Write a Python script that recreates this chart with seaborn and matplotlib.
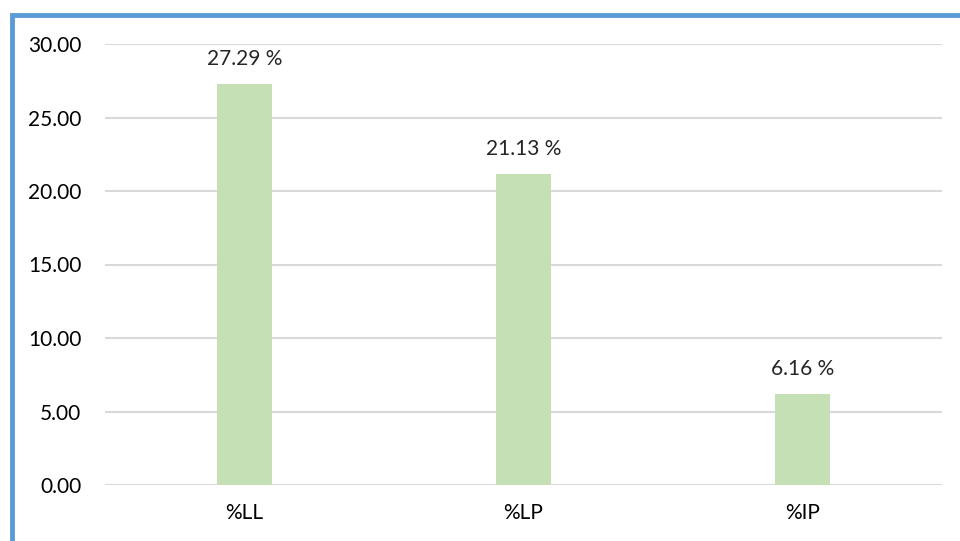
import matplotlib.pyplot as plt
import seaborn as sns
import pandas as pd
from matplotlib.patches import Rectangle

# data
categories = ['%LL', '%LP', '%IP']
values = [27.29, 21.13, 6.16]
labels = ['27.29 %', '21.13 %', '6.16 %']

df = pd.DataFrame({'cat': categories, 'val': values})

sns.set_style('white')
plt.rcParams['font.family'] = ['Lato', 'DejaVu Sans']

fig = plt.figure(figsize=(9.6, 5.41), dpi=100)
ax = fig.add_axes([105 / 960, 56 / 541, 837 / 960, 441 / 541])

sns.barplot(data=df, x='cat', y='val', order=categories, color='#C5E0B4',
            saturation=1, width=0.2, linewidth=0, ax=ax, zorder=3)

ax.set_ylim(0, 30)
ax.set_yticks([0, 5, 10, 15, 20, 25, 30])
ax.set_yticklabels([f'{t:.2f}' for t in [0, 5, 10, 15, 20, 25, 30]])
ax.set_xlim(-0.5, 2.5)
ax.grid(axis='y', color='#D9D9D9', linewidth=1.5, zorder=0)
for s in ax.spines.values():
    s.set_visible(False)
ax.tick_params(axis='both', length=0, labelsize=15, colors='black')
ax.tick_params(axis='y', pad=17)
ax.tick_params(axis='x', pad=13)
ax.set_xlabel('')
ax.set_ylabel('')

for i, (v, lab) in enumerate(zip(values, labels)):
    ax.annotate(lab, (i, v), xytext=(0, 11), textcoords='offset points',
                ha='center', va='bottom', fontsize=15)

# blue frame around the chart (cut off at right and bottom)
fig.patches.append(Rectangle((12 / 960, -0.2), 1.5, 1 - 15 / 541 + 0.2,
                             transform=fig.transFigure, fill=False,
                             edgecolor='#5B9BD5', linewidth=3.5))

fig.savefig('out.png', dpi=100)
